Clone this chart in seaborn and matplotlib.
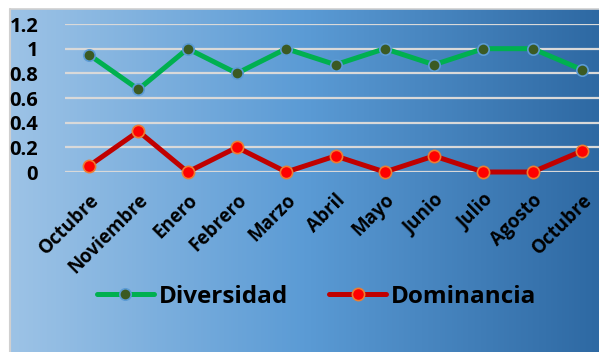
import numpy as np
import pandas as pd
import matplotlib
matplotlib.use("Agg")
import matplotlib.pyplot as plt
from matplotlib.colors import LinearSegmentedColormap
from matplotlib.lines import Line2D
import seaborn as sns

# Monthly index values
meses = ["Octubre", "Noviembre", "Enero", "Febrero", "Marzo", "Abril",
         "Mayo", "Junio", "Julio", "Agosto", "Octubre"]
diversidad = [0.95, 0.67, 1.0, 0.80, 1.0, 0.87, 1.0, 0.87, 1.0, 1.0, 0.83]
dominancia = [0.05, 0.33, 0.0, 0.20, 0.0, 0.13, 0.0, 0.13, 0.0, 0.0, 0.17]
y_ticks = [0, 0.2, 0.4, 0.6, 0.8, 1, 1.2]
y_labels = ["0", "0.2", "0.4", "0.6", "0.8", "1", "1.2"]

df = pd.DataFrame({
    "pos": list(range(len(meses))) * 2,
    "valor": diversidad + dominancia,
    "serie": ["Diversidad"] * len(meses) + ["Dominancia"] * len(meses),
})

sns.set_theme(style="white")
plt.rcParams["font.family"] = ["Open Sans", "DejaVu Sans"]
plt.rcParams["text.color"] = "black"

W, H = 599, 352
fig = plt.figure(figsize=(W / 100, H / 100), dpi=100)
fig.patch.set_facecolor("white")

# Gradient panel behind the chart
bg = fig.add_axes([10 / W, 0, (W - 10) / W, (H - 9) / H], zorder=0)
cmap = LinearSegmentedColormap.from_list(
    "panel", ["#9dc3e6", "#5b9bd5", "#2e69a3"])
grad = np.linspace(0, 1, 512).reshape(1, -1)
bg.imshow(grad, aspect="auto", cmap=cmap, extent=[0, 1, 0, 1])
bg.set_axis_off()
fig.add_artist(Line2D([10 / W, 10 / W], [0, (H - 9) / H], color="#d0d0d0",
                      lw=1.5, transform=fig.transFigure))
fig.add_artist(Line2D([10 / W, 1], [(H - 8.5) / H] * 2, color="#d0d0d0",
                      lw=1.2, transform=fig.transFigure))

left_px, right_px = 64.5, 606.5
top_px, bottom_px = 24, 172
ax = fig.add_axes([left_px / W, (H - bottom_px) / H,
                   (right_px - left_px) / W, (bottom_px - top_px) / H],
                  zorder=2)
ax.set_facecolor("none")

styles = {
    "Diversidad": dict(color="#00b050", marker="o", markersize=8.2,
                       markerfacecolor="#3b5a23", markeredgecolor="#5b9bd5",
                       markeredgewidth=1.2, linewidth=3.6),
    "Dominancia": dict(color="#c00000", marker="o", markersize=8.8,
                       markerfacecolor="#ff0000", markeredgecolor="#ed7d31",
                       markeredgewidth=1.2, linewidth=3.6),
}

for nombre, st in styles.items():
    sub = df[df["serie"] == nombre]
    sns.lineplot(data=sub, x="pos", y="valor", ax=ax, legend=False,
                 clip_on=False, zorder=3, **st)

ax.set_xlim(-0.5, len(meses) - 0.5)
ax.set_ylim(0, 1.2)
ax.set_yticks(y_ticks)
ax.set_yticklabels(y_labels)
ax.set_xticks(range(len(meses)))
ax.set_xticklabels(meses, rotation=45, ha="right", rotation_mode="anchor")
ax.set_xlabel("")
ax.set_ylabel("")
ax.grid(axis="y", color="#d9d9d9", linewidth=1.6)
ax.grid(axis="x", visible=False)
ax.set_axisbelow(True)
for s in ax.spines.values():
    s.set_visible(False)
ax.tick_params(axis="y", length=0, pad=19, labelsize=14.5, labelcolor="black")
ax.tick_params(axis="x", length=0, pad=13, labelsize=13.5, labelcolor="black")
for t in ax.get_yticklabels() + ax.get_xticklabels():
    t.set_fontweight("bold")

handles = [Line2D([], [], **st) for st in styles.values()]
leg = fig.legend(handles, list(styles.keys()), loc="center",
                 bbox_to_anchor=(316.5 / W, (H - 296.7) / H), ncol=2,
                 frameon=False, numpoints=1, handlelength=2.35,
                 handletextpad=0.2, columnspacing=1.7,
                 prop=dict(family="Open Sans", size=17.5, weight="bold"))
for t in leg.get_texts():
    t.set_color("black")

fig.savefig("out.png", dpi=100)
